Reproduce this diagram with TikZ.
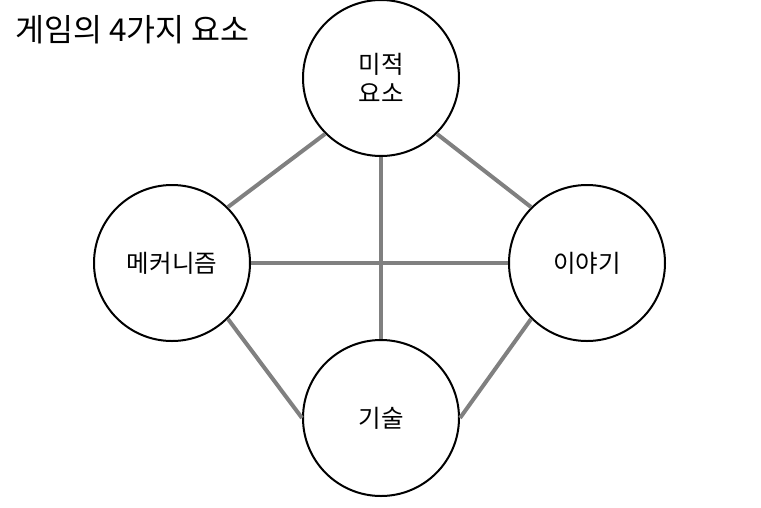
\documentclass[tikz,border=0pt]{standalone}
\usepackage{fontspec}
\setmainfont{Noto Sans CJK KR}
\begin{document}
\begin{tikzpicture}[x=1pt,y=-1pt,
  elem/.style={circle,draw=black,line width=2pt,minimum size=156pt,inner sep=0pt,
    font=\fontsize{24.5}{29}\selectfont,align=center},
  link/.style={draw=gray,line width=4pt}]
\useasboundingbox (0,0) rectangle (761,507);
\node[anchor=west,font=\fontsize{31.5}{34}\selectfont,inner sep=0pt] (title) at (15,30) {게임의 4가지 요소};
\node[elem] (top) at (381,78) {미적\\요소};
\node[elem] (left) at (172,263) {메커니즘};
\node[elem] (right) at (587,263) {이야기};
\node[elem] (bottom) at (381,418) {기술};
\draw[link] (top.south west) -- (left.north east);
\draw[link] (top.south east) -- (right.north west);
\draw[link] (top.south) -- (bottom.north);
\draw[link] (left.east) -- (right.west);
\draw[link] (left.south east) -- (bottom.west);
\draw[link] (bottom.east) -- (right.south west);
\end{tikzpicture}
\end{document}
